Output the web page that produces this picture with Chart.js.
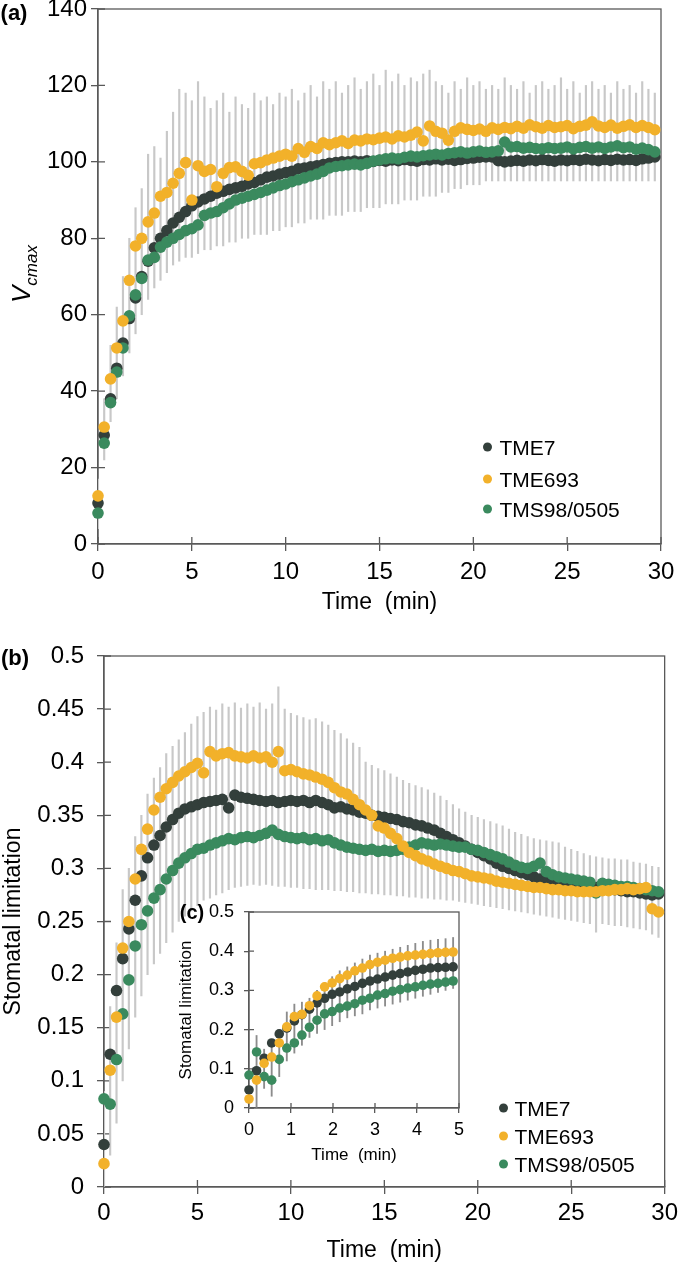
<!DOCTYPE html>
<html>
<head>
<meta charset="utf-8">
<script src="https://cdn.jsdelivr.net/npm/chart.js@4.4.1/dist/chart.umd.min.js"></script>
<style>
  body { margin: 0; width: 683px; height: 1262px; overflow: hidden; background: #fff; position: relative;
         font-family: "Liberation Sans", Arial, Helvetica, sans-serif; color: #000; }
  canvas { position: absolute; }
  .txt { position: absolute; line-height: 1; white-space: nowrap; }
  .panel { font-weight: bold; transform: translate(-50%, -50%); }
  .key { position: absolute; display: flex; align-items: center; line-height: 1; transform: translateY(-50%); white-space: nowrap; }
  .dot { display: inline-block; border-radius: 50%; }
</style>
</head>
<body>
<canvas id="chartA" width="683" height="660" style="left:0;top:-30px"></canvas>
<canvas id="chartB" width="683" height="680" style="left:0;top:610px"></canvas>
<canvas id="chartC" width="330" height="300" style="left:150px;top:880px"></canvas>

<div class="txt panel" style="left:14px;top:13px;font-size:22px">(a)</div>
<div class="txt panel" style="left:15px;top:658px;font-size:22px">(b)</div>
<div class="txt panel" style="left:192px;top:912px;font-size:20px">(c)</div>
<div class="txt" style="left:24px;top:274px;font-size:26px;font-style:italic;transform:translate(-50%,-50%) rotate(-90deg)">V<sub style="font-size:17px">cmax</sub></div>

<div id="legendA"></div>
<div id="legendB"></div>

<script>
// genotypes
const seriesNames = ["TME7", "TME693", "TMS98/0505"];
const seriesColors = ["#333f3b", "#f2b12a", "#3a8a5e"];

// sampling times (min), main panels
const timeMin = [
  0, 0.33, 0.67, 1, 1.33, 1.67, 2, 2.33, 2.67, 3, 3.33, 3.67, 4, 4.33, 4.67,
  5, 5.33, 5.67, 6, 6.33, 6.67, 7, 7.33, 7.67, 8, 8.33, 8.67, 9, 9.33, 9.67,
  10, 10.33, 10.67, 11, 11.33, 11.67, 12, 12.33, 12.67, 13, 13.33, 13.67, 14, 14.33, 14.67,
  15, 15.33, 15.67, 16, 16.33, 16.67, 17, 17.33, 17.67, 18, 18.33, 18.67, 19, 19.33, 19.67,
  20, 20.33, 20.67, 21, 21.33, 21.67, 22, 22.33, 22.67, 23, 23.33, 23.67, 24, 24.33, 24.67,
  25, 25.33, 25.67, 26, 26.33, 26.67, 27, 27.33, 27.67, 28, 28.33, 28.67, 29, 29.33, 29.67
];

// (a) Vcmax
const vcmaxTME7 = [
  10.7, 28.5, 38, 46, 52.6, 59, 64.4, 70, 74, 77.5, 80, 82, 84, 85.5, 87,
  88.5, 89.5, 90.3, 91, 91.8, 92.3, 92.8, 93.2, 93.6, 94.2, 94.6, 95.3, 96, 96.3, 96.8,
  97.2, 97.5, 98.2, 98.4, 98.7, 99, 99.3, 99.6, 99.8, 100, 100, 100.2, 100, 100.3, 100.1,
  100.4, 100.2, 100.5, 100.3, 100.6, 100.4, 100.2, 100.6, 100.5, 100.8, 100.5, 100.7, 100.4, 100.6, 100.9,
  101, 101.2, 101.3, 101.3, 100.3, 100, 100.2, 100.4, 100.2, 100.5, 100.3, 100.6, 100.4, 100.2, 100.5,
  100.3, 100.6, 100.4, 100.7, 100.5, 100.3, 100.6, 100.4, 100.7, 100.5, 100.6, 100.4, 100.8, 101, 101.3
];
const vcmaxTME693 = [
  12.6, 30.6, 43.2, 51.3, 58.4, 69, 78, 80, 84.3, 86.6, 91, 92, 94.4, 97, 99.8,
  90, 99, 97.5, 98, 93.5, 97, 98.5, 98.7, 97.5, 96.5, 99.5, 99.8, 100.5, 101, 101.5,
  102, 101.5, 103.5, 102.5, 104, 103.5, 105, 104.5, 105, 105.5, 104.8, 105.7, 105.5, 106, 105.8,
  106.2, 106.5, 106, 106.8, 106.5, 107, 107.8, 105.5, 109.4, 108, 107.5, 105.7, 108, 108.9, 108.5,
  108.2, 108.6, 108, 108.9, 108.5, 109, 108.7, 109.3, 108.8, 109.7, 109.2, 108.8, 109.5, 109, 109.2,
  109.5, 108.7, 109.3, 109.6, 110.5, 109.4, 109, 109.6, 108.8, 109.3, 109.7, 109, 109.5, 109, 108.4
];
const vcmaxTMS = [
  8.1, 26.4, 37, 45, 51.3, 59.7, 65.2, 69.5, 74.3, 75, 77.7, 79, 80, 81, 82,
  82.5, 83.5, 86, 86.6, 87, 88, 89, 90, 90.5, 91, 91.5, 92, 92.6, 93.2, 93.8,
  94.2, 94.8, 95.3, 95.8, 96.3, 96.8, 97.5, 98.4, 98.8, 99, 99.2, 99.4, 99.2, 99.6, 100.2,
  100.5, 100.8, 101, 100.8, 101.2, 101.5, 101.3, 101.6, 101.8, 102, 101.8, 102.2, 102.4, 102.6, 102.3,
  102.6, 102.8, 102.5, 102.6, 102.9, 105.2, 103.9, 104, 103.6, 103.8, 103.5, 103.4, 103.7, 103.5, 103.6,
  103.9, 103.4, 103.8, 104, 103.6, 103.9, 103.5, 103.9, 104.2, 103.7, 103.9, 103.3, 103.6, 103.2, 102.6
];
// grey error bars (lowest and highest end seen at each time)
const vcmaxErrLow = [
  4, 22, 32, 38, 44, 50, 55, 60, 64, 67, 69, 71, 73, 74, 75,
  75, 76, 77, 77, 78, 78, 79, 79, 80, 80, 81, 81, 81, 82, 82,
  83, 83, 84, 84, 85, 85, 85, 86, 86, 86, 87, 87, 87, 88, 88,
  88, 89, 89, 89, 90, 90, 90, 91, 91, 91, 92, 92, 93, 93, 94,
  94, 94, 95, 95, 95, 95, 95, 95, 95, 95, 95, 95, 95, 95, 95,
  95, 95, 95, 95, 95, 95, 95, 95, 95, 95, 95, 95, 95, 95, 95
];
const vcmaxErrHigh = [
  17, 38, 52, 62, 70, 80, 88, 93, 102, 104, 101, 108, 113, 119, 118,
  116, 121, 117, 114, 116, 118, 113, 117, 115, 114, 118, 116, 117, 115, 118,
  117, 119, 116, 118, 120, 117, 121, 119, 121, 118, 120, 122, 119, 121, 123,
  120, 124, 121, 123, 120, 122, 121, 123, 124, 121, 120, 118, 121, 119, 122,
  120, 121, 119, 120, 119, 122, 120, 119, 121, 118, 120, 121, 119, 120, 122,
  119, 121, 118, 120, 121, 119, 120, 118, 121, 119, 120, 118, 121, 119, 118
];

// (b) stomatal limitation
const slTME7 = [
  0.04, 0.125, 0.185, 0.215, 0.243, 0.27, 0.293, 0.31, 0.322, 0.331, 0.339, 0.346, 0.352, 0.356, 0.358,
  0.36, 0.362, 0.363, 0.364, 0.365, 0.357, 0.369, 0.367, 0.366, 0.365, 0.364, 0.363, 0.364, 0.362, 0.363,
  0.364, 0.363, 0.364, 0.362, 0.364, 0.362, 0.36, 0.357, 0.358, 0.356, 0.355, 0.353, 0.352, 0.35, 0.349,
  0.348, 0.347, 0.346, 0.344, 0.343, 0.341, 0.34, 0.338, 0.336, 0.333, 0.33, 0.327, 0.324, 0.321, 0.318,
  0.315, 0.312, 0.309, 0.305, 0.302, 0.3, 0.298, 0.296, 0.294, 0.292, 0.29, 0.289, 0.287, 0.286, 0.285,
  0.284, 0.284, 0.283, 0.282, 0.282, 0.281, 0.28, 0.28, 0.279, 0.278, 0.278, 0.277, 0.276, 0.275, 0.276
];
const slTME693 = [
  0.022, 0.11, 0.16, 0.225, 0.25, 0.29, 0.318, 0.337, 0.355, 0.367, 0.375, 0.381, 0.387, 0.391, 0.395,
  0.399, 0.39, 0.41, 0.406, 0.408, 0.409, 0.406, 0.405, 0.404, 0.406, 0.404, 0.405, 0.4, 0.41, 0.392,
  0.393, 0.391, 0.389, 0.388, 0.386, 0.384, 0.381, 0.376, 0.372, 0.37, 0.365, 0.36, 0.355, 0.35, 0.34,
  0.338, 0.333, 0.328, 0.321, 0.315, 0.312, 0.309, 0.307, 0.304, 0.302, 0.3, 0.298, 0.297, 0.295, 0.293,
  0.292, 0.291, 0.29, 0.288, 0.287, 0.286, 0.285, 0.284, 0.283, 0.282, 0.282, 0.281, 0.28, 0.28, 0.279,
  0.279, 0.278, 0.278, 0.278, 0.278, 0.279, 0.279, 0.28, 0.28, 0.281, 0.28, 0.281, 0.282, 0.262, 0.259
];
const slTMS = [
  0.083, 0.078, 0.12, 0.163, 0.195, 0.227, 0.247, 0.26, 0.272, 0.28, 0.29, 0.298, 0.305, 0.31, 0.314,
  0.318, 0.319, 0.322, 0.324, 0.326, 0.328, 0.327, 0.329, 0.33, 0.329, 0.331, 0.333, 0.336, 0.332, 0.33,
  0.329, 0.328, 0.329, 0.327, 0.328, 0.326, 0.327, 0.324, 0.322, 0.32, 0.319, 0.318, 0.317, 0.318, 0.316,
  0.317, 0.316, 0.317, 0.318, 0.32, 0.322, 0.324, 0.323, 0.322, 0.323, 0.322, 0.321, 0.32, 0.32, 0.318,
  0.317, 0.315, 0.313, 0.311, 0.309, 0.306, 0.303, 0.301, 0.3, 0.302, 0.305, 0.297, 0.294, 0.292, 0.291,
  0.29, 0.289, 0.288, 0.287, 0.277, 0.286, 0.285, 0.284, 0.283, 0.283, 0.282, 0.281, 0.28, 0.279, 0.278
];
const slErrLow = [
  0, 0.03, 0.06, 0.1, 0.13, 0.16, 0.18, 0.2, 0.21, 0.22, 0.23, 0.24, 0.25, 0.255, 0.26,
  0.265, 0.27, 0.272, 0.275, 0.277, 0.28, 0.282, 0.283, 0.284, 0.285, 0.284, 0.285, 0.284, 0.283, 0.283,
  0.282, 0.282, 0.281, 0.281, 0.28, 0.28, 0.28, 0.279, 0.279, 0.278, 0.278, 0.277, 0.277, 0.276, 0.276,
  0.275, 0.275, 0.274, 0.274, 0.273, 0.273, 0.272, 0.272, 0.271, 0.271, 0.27, 0.27, 0.269, 0.268, 0.267,
  0.266, 0.265, 0.264, 0.263, 0.262, 0.261, 0.26, 0.259, 0.258, 0.257, 0.256, 0.255, 0.254, 0.253, 0.252,
  0.251, 0.25, 0.249, 0.248, 0.24, 0.248, 0.247, 0.246, 0.246, 0.245, 0.244, 0.243, 0.242, 0.238, 0.235
];
const slErrHigh = [
  0.09, 0.17, 0.23, 0.28, 0.3, 0.33, 0.35, 0.37, 0.385, 0.395, 0.408, 0.415, 0.421, 0.428, 0.436,
  0.443, 0.447, 0.452, 0.449, 0.455, 0.452, 0.456, 0.451, 0.455, 0.452, 0.456, 0.45, 0.455, 0.471, 0.45,
  0.446, 0.444, 0.442, 0.44, 0.441, 0.438, 0.435, 0.43, 0.427, 0.422, 0.418, 0.414, 0.4, 0.397, 0.394,
  0.392, 0.389, 0.386, 0.383, 0.38, 0.378, 0.376, 0.374, 0.371, 0.368, 0.364, 0.36, 0.356, 0.353, 0.35,
  0.348, 0.346, 0.344, 0.342, 0.34, 0.337, 0.334, 0.332, 0.33, 0.328, 0.327, 0.326, 0.325, 0.324, 0.32,
  0.318, 0.316, 0.314, 0.312, 0.311, 0.31, 0.309, 0.309, 0.308, 0.308, 0.306, 0.305, 0.304, 0.302, 0.301
];

// (c) first five minutes
const timeInset = [
  0, 0.18, 0.36, 0.54, 0.72, 0.9, 1.08, 1.26, 1.44, 1.62, 1.8, 1.98, 2.16, 2.34,
  2.52, 2.7, 2.88, 3.06, 3.24, 3.42, 3.6, 3.78, 3.96, 4.14, 4.32, 4.5, 4.68, 4.86
];
const insetTME7 = [
  0.046, 0.095, 0.127, 0.166, 0.189, 0.204, 0.222, 0.238, 0.252, 0.268, 0.28, 0.29, 0.296, 0.304,
  0.31, 0.318, 0.324, 0.329, 0.334, 0.339, 0.343, 0.347, 0.351, 0.354, 0.357, 0.358, 0.359, 0.36
];
const insetTME693 = [
  0.023, 0.071, 0.114, 0.13, 0.166, 0.207, 0.233, 0.239, 0.261, 0.286, 0.309, 0.319, 0.33, 0.339,
  0.35, 0.357, 0.366, 0.372, 0.377, 0.382, 0.385, 0.388, 0.39, 0.392, 0.394, 0.396, 0.397, 0.398
];
const insetTMS = [
  0.084, 0.143, 0.08, 0.071, 0.124, 0.153, 0.166, 0.186, 0.206, 0.224, 0.24, 0.246, 0.255, 0.26,
  0.266, 0.275, 0.28, 0.288, 0.292, 0.298, 0.302, 0.306, 0.309, 0.313, 0.316, 0.318, 0.321, 0.324
];
const insetErrLow = [
  0, 0, 0.05, 0.03, 0.08, 0.12, 0.14, 0.16, 0.18, 0.19, 0.2, 0.21, 0.22, 0.23,
  0.235, 0.24, 0.25, 0.255, 0.26, 0.265, 0.27, 0.275, 0.28, 0.285, 0.29, 0.295, 0.3, 0.305
];
const insetErrHigh = [
  0.07, 0.185, 0.15, 0.16, 0.2, 0.245, 0.265, 0.27, 0.28, 0.3, 0.32, 0.335, 0.35, 0.36,
  0.37, 0.38, 0.39, 0.395, 0.4, 0.405, 0.41, 0.415, 0.42, 0.425, 0.428, 0.43, 0.432, 0.435
];

// tick labels
const timeTicks = [0, 5, 10, 15, 20, 25, 30];
const insetTimeTicks = [0, 1, 2, 3, 4, 5];
const vcmaxTicks = [0, 20, 40, 60, 80, 100, 120, 140];
const slTicks = [0, 0.05, 0.1, 0.15, 0.2, 0.25, 0.3, 0.35, 0.4, 0.45, 0.5];
const insetSlTicks = [0, 0.1, 0.2, 0.3, 0.4, 0.5];

Chart.defaults.font.family = '"Liberation Sans", Arial, Helvetica, sans-serif';
Chart.defaults.color = "#000";
Chart.defaults.animation = false;

const AXIS = "#595959";

const pts = (xs, ys) => xs.map((x, i) => ({ x: x, y: ys[i] }));
const bars = (xs, lo, hi) => xs.map((x, i) => ({ x: x, y: [lo[i], hi[i]] }));
const fmt = (v) => String(+Number(v).toFixed(2));

// box round the plot + inner half of the crossing tick marks
const frame = {
  id: "frame",
  beforeDatasetsDraw(chart, args, opts) {
    const { ctx, chartArea: a, scales } = chart;
    ctx.save();
    ctx.strokeStyle = AXIS;
    ctx.lineWidth = 1.3;
    ctx.strokeRect(a.left, a.top, a.right - a.left, a.bottom - a.top);
    ctx.beginPath();
    scales.x.ticks.forEach(t => {
      const px = scales.x.getPixelForValue(t.value);
      ctx.moveTo(px, a.bottom);
      ctx.lineTo(px, a.bottom - opts.tick);
    });
    scales.y.ticks.forEach(t => {
      const py = scales.y.getPixelForValue(t.value);
      ctx.moveTo(a.left, py);
      ctx.lineTo(a.left + opts.tick, py);
    });
    ctx.stroke();
    ctx.restore();
  }
};

function scatterSet(name, idx, xs, ys, order, radius) {
  return {
    label: name,
    data: pts(xs, ys),
    backgroundColor: seriesColors[idx],
    borderColor: seriesColors[idx],
    pointRadius: radius,
    pointHoverRadius: radius,
    pointBorderWidth: 0,
    clip: false,
    order: order
  };
}

function errorSet(xs, lo, hi, color, width) {
  return {
    type: "bar",
    data: bars(xs, lo, hi),
    backgroundColor: color,
    borderWidth: 0,
    barThickness: width,
    order: 9
  };
}

function axes(o) {
  return {
    x: {
      type: "linear",
      min: o.xTicks[0],
      max: o.xTicks[o.xTicks.length - 1],
      offset: false,
      afterBuildTicks: s => { s.ticks = o.xTicks.map(v => ({ value: v })); },
      afterFit: s => { s.height = o.xHeight; },
      grid: { offset: false, drawOnChartArea: false, tickLength: o.tick, color: AXIS, lineWidth: 1.3 },
      border: { color: AXIS, width: 1.3 },
      ticks: { font: { size: o.tickFont }, padding: o.xPad, maxRotation: 0, autoSkip: false, callback: fmt },
      title: { display: true, text: "Time  (min)", font: { size: o.titleFont }, padding: { top: 0, bottom: o.xTitlePad } }
    },
    y: {
      type: "linear",
      min: o.yTicks[0],
      max: o.yTicks[o.yTicks.length - 1],
      afterBuildTicks: s => { s.ticks = o.yTicks.map(v => ({ value: v })); },
      afterFit: s => { s.width = o.yWidth; },
      grid: { drawOnChartArea: false, tickLength: o.tick, color: AXIS, lineWidth: 1.3 },
      border: { color: AXIS, width: 1.3 },
      ticks: { font: { size: o.tickFont }, padding: o.yPad, autoSkip: false, callback: fmt },
      title: { display: !!o.yTitle, text: o.yTitle || "", font: { size: o.titleFont }, padding: { top: o.yTitlePad, bottom: 0 } }
    }
  };
}

function baseOptions(pad, scales, tick) {
  return {
    responsive: false,
    animation: false,
    events: [],
    layout: { padding: pad },
    plugins: { legend: { display: false }, tooltip: { enabled: false }, frame: { tick: tick } },
    scales: scales
  };
}

// (a)
new Chart(document.getElementById("chartA"), {
  type: "scatter",
  data: {
    datasets: [
      errorSet(timeMin, vcmaxErrLow, vcmaxErrHigh, "#c8c8c8", 1.5),
      scatterSet(seriesNames[0], 0, timeMin, vcmaxTME7, 3, 5.8),
      scatterSet(seriesNames[2], 2, timeMin, vcmaxTMS, 2, 5.8),
      scatterSet(seriesNames[1], 1, timeMin, vcmaxTME693, 1, 5.8)
    ]
  },
  options: baseOptions({ top: 39, right: 22, left: 0, bottom: 0 },
    axes({ xTicks: timeTicks, yTicks: vcmaxTicks, xHeight: 86, yWidth: 98, tick: 7, tickFont: 24, titleFont: 23,
           xPad: 7, yPad: 4, xTitlePad: 14 }), 7),
  plugins: [frame]
});

// (b)
new Chart(document.getElementById("chartB"), {
  type: "scatter",
  data: {
    datasets: [
      errorSet(timeMin, slErrLow, slErrHigh, "#c8c8c8", 1.5),
      scatterSet(seriesNames[0], 0, timeMin, slTME7, 3, 5.8),
      scatterSet(seriesNames[2], 2, timeMin, slTMS, 2, 5.8),
      scatterSet(seriesNames[1], 1, timeMin, slTME693, 1, 5.8)
    ]
  },
  options: baseOptions({ top: 46, right: 14, left: 0, bottom: 0 },
    axes({ xTicks: timeTicks, yTicks: slTicks, xHeight: 103, yWidth: 104, tick: 7, tickFont: 24, titleFont: 23,
           xPad: 5, yPad: 13, xTitlePad: 26, yTitle: "Stomatal limitation", yTitlePad: 0 }), 7),
  plugins: [frame]
});

// (c) inset
new Chart(document.getElementById("chartC"), {
  type: "scatter",
  data: {
    datasets: [
      errorSet(timeInset, insetErrLow, insetErrHigh, "#8c8c8c", 1.2),
      scatterSet(seriesNames[0], 0, timeInset, insetTME7, 3, 4.8),
      scatterSet(seriesNames[2], 2, timeInset, insetTMS, 2, 4.8),
      scatterSet(seriesNames[1], 1, timeInset, insetTME693, 1, 4.8)
    ]
  },
  options: baseOptions({ top: 32, right: 21, left: 0, bottom: 0 },
    axes({ xTicks: insetTimeTicks, yTicks: insetSlTicks, xHeight: 72, yWidth: 99, tick: 5, tickFont: 18, titleFont: 17,
           xPad: 6, yPad: 10, xTitlePad: 14, yTitle: "Stomatal limitation", yTitlePad: 26 }), 5),
  plugins: [frame]
});

// legends
function buildLegend(id, x, ys, gap, size) {
  const box = document.getElementById(id);
  seriesNames.forEach((name, i) => {
    const row = document.createElement("div");
    row.className = "key";
    row.style.left = (x - 4.5) + "px";
    row.style.top = ys[i] + "px";
    row.style.fontSize = size + "px";
    const dot = document.createElement("span");
    dot.className = "dot";
    dot.style.width = "9px";
    dot.style.height = "9px";
    dot.style.marginRight = gap + "px";
    dot.style.background = seriesColors[i];
    row.appendChild(dot);
    row.appendChild(document.createTextNode(name));
    box.appendChild(row);
  });
}
buildLegend("legendA", 487, [447, 479, 509], 8, 21);
buildLegend("legendB", 503, [1108, 1136, 1164], 7, 21);
</script>
</body>
</html>
